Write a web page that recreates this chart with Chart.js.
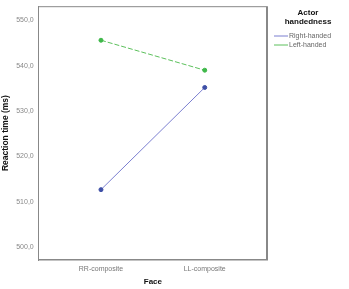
<!DOCTYPE html>
<html>
<head>
<meta charset="utf-8">
<script src="https://cdn.jsdelivr.net/npm/chart.js@4/dist/chart.umd.min.js"></script>
<style>
  html, body { margin: 0; padding: 0; background: #fff; }
  #wrap { width: 349px; height: 289px; }
</style>
</head>
<body>
<div id="wrap"><canvas id="rtChart" width="349" height="289"></canvas></div>
<script>
// DATA ---------------------------------------------------------------
const faces = ["RR-composite", "LL-composite"];
const rightHanded = [512.7, 535.2];
const leftHanded = [545.6, 539.0];
const yTicks = [500, 510, 520, 530, 540, 550];
const legendTitle = ["Actor", "handedness"];

// legend drawn in the right margin
const sideLegend = {
    id: 'sideLegend',
    afterDraw(chart) {
        const ctx = chart.ctx;
        const x0 = chart.chartArea.right + 4;
        ctx.save();
        ctx.fillStyle = '#111';
        ctx.font = 'bold 8px "Liberation Sans", Arial, sans-serif';
        ctx.textAlign = 'center';
        ctx.textBaseline = 'middle';
        legendTitle.forEach((t, i) => ctx.fillText(t, 308, 13 + i * 9));
        ctx.textAlign = 'left';
        ctx.font = '7px "Liberation Sans", Arial, sans-serif';
        chart.data.datasets.forEach((ds, i) => {
            const y = 36 + i * 9;
            ctx.strokeStyle = ds.borderColor;
            ctx.lineWidth = 1;
            ctx.setLineDash([]);
            ctx.beginPath();
            ctx.moveTo(x0 + 3, y);
            ctx.lineTo(x0 + 17, y);
            ctx.stroke();
            ctx.fillStyle = '#666';
            ctx.fillText(ds.label, x0 + 18, y);
        });
        ctx.restore();
    }
};

const ctx = document.getElementById('rtChart').getContext('2d');

new Chart(ctx, {
    type: 'line',
    data: {
        datasets: [{
            label: 'Right-handed',
            data: rightHanded.map((v, i) => ({ x: i, y: v })),
            borderColor: '#7b7fd0',
            pointBackgroundColor: '#3e4fa6',
            pointBorderColor: '#3e4fa6',
            borderWidth: 1,
            pointRadius: 2,
            tension: 0
        }, {
            label: 'Left-handed',
            data: leftHanded.map((v, i) => ({ x: i, y: v })),
            borderColor: '#5cc05c',
            pointBackgroundColor: '#3fb84a',
            pointBorderColor: '#3fb84a',
            borderWidth: 1,
            borderDash: [5, 2],
            pointRadius: 2,
            tension: 0
        }]
    },
    options: {
        responsive: false,
        animation: false,
        layout: { padding: { top: 6, right: 82, left: 1, bottom: 0 } },
        plugins: {
            legend: { display: false },
            tooltip: { enabled: false }
        },
        scales: {
            x: {
                type: 'linear',
                min: -0.6,
                max: 1.6,
                afterBuildTicks: axis => { axis.ticks = faces.map((f, i) => ({ value: i })); },
                ticks: {
                    callback: v => faces[v],
                    color: '#777',
                    font: { size: 7, family: '"Liberation Sans", Arial, sans-serif' },
                    padding: 2,
                    maxRotation: 0
                },
                grid: { display: false, drawTicks: true, tickLength: 3, tickColor: '#888' },
                border: { color: '#888', width: 1.5 },
                title: {
                    display: true,
                    text: 'Face',
                    color: '#111',
                    font: { size: 8, weight: 'bold', family: '"Liberation Sans", Arial, sans-serif' },
                    padding: { top: 2, bottom: 2 }
                }
            },
            y: {
                min: 497.2,
                max: 553.1,
                afterBuildTicks: axis => { axis.ticks = yTicks.map(v => ({ value: v })); },
                ticks: {
                    callback: v => v.toFixed(1).replace('.', ','),
                    color: '#888',
                    font: { size: 7, family: '"Liberation Sans", Arial, sans-serif' },
                    padding: 2
                },
                grid: { display: false, drawTicks: true, tickLength: 3, tickColor: '#888' },
                border: { color: '#888', width: 1 },
                title: {
                    display: true,
                    text: 'Reaction time (ms)',
                    color: '#111',
                    font: { size: 8.5, weight: 'bold', family: '"Liberation Sans", Arial, sans-serif' },
                    padding: { top: 0, bottom: 3 }
                }
            }
        }
    },
    plugins: [sideLegend, {
        id: 'frame',
        afterDraw(chart) {
            const a = chart.chartArea;
            const c = chart.ctx;
            c.save();
            c.strokeStyle = '#888';
            c.lineWidth = 1;
            c.beginPath();
            c.moveTo(a.left, a.top + 0.5);
            c.lineTo(a.right - 0.5, a.top + 0.5);
            c.stroke();
            c.lineWidth = 2;
            c.beginPath();
            c.moveTo(a.right, a.top);
            c.lineTo(a.right, a.bottom);
            c.stroke();
            c.restore();
        }
    }]
});
</script>
</body>
</html>
